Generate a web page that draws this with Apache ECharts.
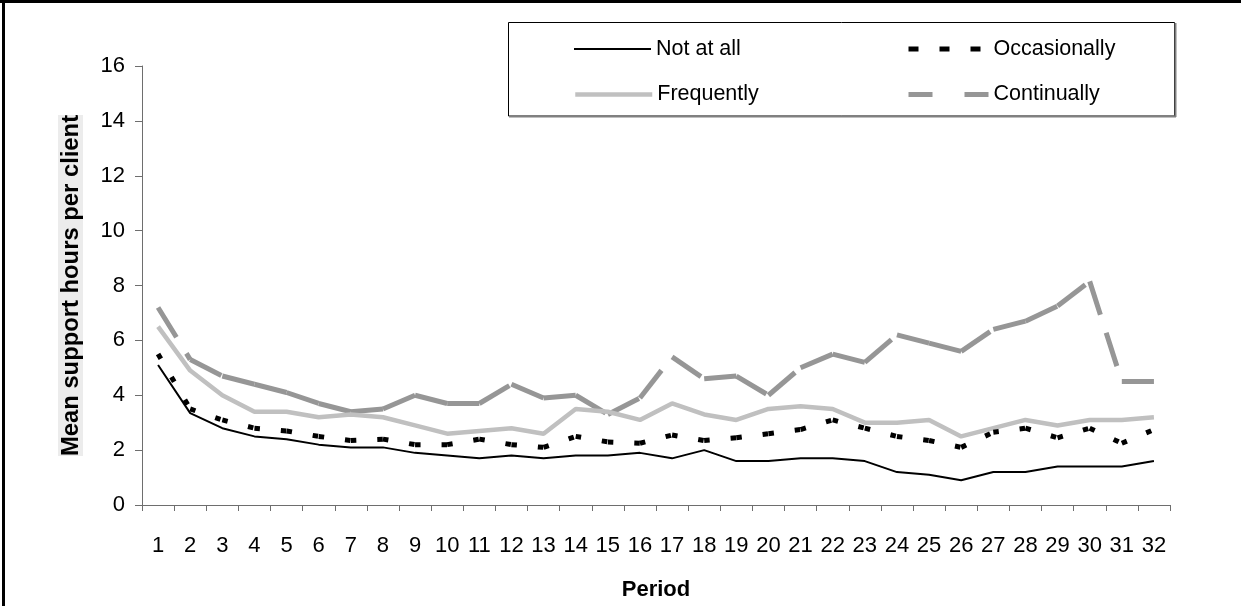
<!DOCTYPE html>
<html>
<head>
<meta charset="utf-8">
<script src="https://cdn.jsdelivr.net/npm/echarts@6/dist/echarts.min.js"></script>
<style>
html,body{margin:0;padding:0;background:#fff;}
#chart{width:1241px;height:606px;}
</style>
</head>
<body>
<div id="chart"></div>
<script>
const categories = ['1','2','3','4','5','6','7','8','9','10','11','12','13','14','15','16','17','18','19','20','21','22','23','24','25','26','27','28','29','30','31','32'];
const yTicks = [0, 2, 4, 6, 8, 10, 12, 14, 16];
const seriesNames = ['Not at all', 'Occasionally', 'Frequently', 'Continually'];
const notAtAll = [5.1, 3.35, 2.8, 2.5, 2.4, 2.2, 2.1, 2.1, 1.9, 1.8, 1.7, 1.8, 1.7, 1.8, 1.8, 1.9, 1.7, 2.0, 1.6, 1.6, 1.7, 1.7, 1.6, 1.2, 1.1, 0.9, 1.2, 1.2, 1.4, 1.4, 1.4, 1.6];
const occasionally = [5.5, 3.5, 3.1, 2.8, 2.7, 2.5, 2.35, 2.4, 2.2, 2.2, 2.4, 2.2, 2.1, 2.5, 2.3, 2.25, 2.55, 2.35, 2.45, 2.6, 2.75, 3.1, 2.8, 2.5, 2.35, 2.1, 2.65, 2.8, 2.45, 2.8, 2.25, 2.75];
const frequently = [6.5, 4.9, 4.0, 3.4, 3.4, 3.2, 3.3, 3.2, 2.9, 2.6, 2.7, 2.8, 2.6, 3.5, 3.4, 3.1, 3.7, 3.3, 3.1, 3.5, 3.6, 3.5, 3.0, 3.0, 3.1, 2.5, 2.8, 3.1, 2.9, 3.1, 3.1, 3.2];
const continually = [7.2, 5.3, 4.7, 4.4, 4.1, 3.7, 3.4, 3.5, 4.0, 3.7, 3.7, 4.4, 3.9, 4.0, 3.3, 3.9, 5.4, 4.6, 4.7, 4.0, 5.0, 5.5, 5.2, 6.2, 5.9, 5.6, 6.4, 6.7, 7.25, 8.15, 4.5, 4.5];

const FONT = "Arial, 'Liberation Sans', sans-serif";

// each segment drawn as its own series so that the dash pattern restarts at every point
function segmentSeries(name, values, lineStyle, z) {
  return values.slice(0, -1).map((v, i) => ({
    type: 'line', name: name, z: z,
    data: [[i, v], [i + 1, values[i + 1]]],
    symbol: 'none', silent: true, animation: false,
    lineStyle: lineStyle
  }));
}

const series = [
  { type: 'line', name: seriesNames[0], data: notAtAll, symbol: 'none', silent: true, animation: false, z: 5,
    lineStyle: { color: '#000000', width: 2 } },
  { type: 'line', name: seriesNames[2], data: frequently, symbol: 'none', silent: true, animation: false, z: 3,
    lineStyle: { color: '#c0c0c0', width: 4.5 } }
].concat(
  segmentSeries(seriesNames[1], occasionally, { color: '#000000', width: 5, type: [5.5, 21] }, 4),
  segmentSeries(seriesNames[3], continually, { color: '#969696', width: 5, type: [35, 19] }, 2)
);

function legendItem(name, left, top, w, lineStyle) {
  return {
    left: left, top: top, padding: 0, itemWidth: w, itemHeight: 14, selectedMode: false,
    data: [{ name: name, lineStyle: lineStyle, itemStyle: { opacity: 0 } }],
    textStyle: { fontFamily: FONT, fontSize: 21.5, color: '#000', padding: [16, 0, 0, 0] }
  };
}

const option = {
  backgroundColor: '#ffffff',
  animation: false,
  grid: { left: 142, right: 71, top: 66, bottom: 96.5, containLabel: false },
  legend: [
    legendItem(seriesNames[0], 573, 38, 77, { width: 2, color: '#000', type: 'solid' }),
    legendItem(seriesNames[1], 906, 38, 80, { width: 5, color: '#000', type: [10, 21] }),
    legendItem(seriesNames[2], 573, 83.5, 77, { width: 4.5, color: '#c0c0c0', type: 'solid' }),
    legendItem(seriesNames[3], 906, 83.5, 80, { width: 5, color: '#969696', type: [24, 32] })
  ],
  xAxis: {
    type: 'category', data: categories, boundaryGap: true,
    name: 'Period', nameLocation: 'middle', nameGap: 74,
    nameTextStyle: { fontFamily: FONT, fontSize: 22, fontWeight: 'bold', color: '#000' },
    axisLine: { lineStyle: { color: '#6e6e6e', width: 1 } },
    axisTick: { show: true, inside: false, length: 6, alignWithLabel: false, lineStyle: { color: '#6e6e6e' } },
    axisLabel: { fontFamily: FONT, fontSize: 22, color: '#000', margin: 30, interval: 0 },
    splitLine: { show: false }
  },
  yAxis: {
    type: 'value', min: yTicks[0], max: yTicks[yTicks.length - 1], interval: 2,
    name: 'Mean support hours per client', nameLocation: 'middle', nameGap: 59, nameRotate: 90,
    nameTextStyle: { fontFamily: FONT, fontSize: 23.8, fontWeight: 'bold', color: '#000', backgroundColor: '#ececec', padding: [1, 0, 0, 0] },
    axisLine: { show: true, lineStyle: { color: '#6e6e6e', width: 1 } },
    axisTick: { show: true, inside: false, length: 7, lineStyle: { color: '#6e6e6e' } },
    axisLabel: { fontFamily: FONT, fontSize: 22, color: '#000', margin: 17 },
    splitLine: { show: false }
  },
  graphic: [
    { type: 'line', shape: { x1: 0, y1: 1.5, x2: 1241, y2: 1.5 }, style: { stroke: '#000', lineWidth: 3 }, silent: true },
    { type: 'line', shape: { x1: 3.5, y1: 0, x2: 3.5, y2: 606 }, style: { stroke: '#000', lineWidth: 3 }, silent: true },
    { type: 'rect', z: -1, shape: { x: 508.5, y: 22.5, width: 666, height: 93.5 }, style: { fill: '#fff', stroke: '#000', lineWidth: 1 }, silent: true },
    { type: 'line', shape: { x1: 1175.5, y1: 23, x2: 1175.5, y2: 117 }, style: { stroke: '#808080', lineWidth: 2 }, silent: true },
    { type: 'line', shape: { x1: 509, y1: 116.5, x2: 1176, y2: 116.5 }, style: { stroke: '#808080', lineWidth: 2 }, silent: true }
  ],
  series: series
};

const chart = echarts.init(document.getElementById('chart'), null, { renderer: 'canvas' });
chart.setOption(option);
</script>
</body>
</html>
